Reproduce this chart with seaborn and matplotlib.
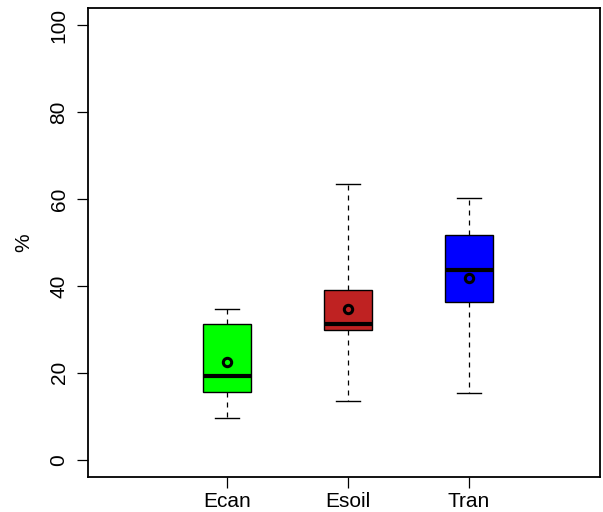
import pandas as pd
import matplotlib
matplotlib.use("Agg")
import matplotlib.pyplot as plt
import seaborn as sns

# --- values ---
components = ["Ecan", "Esoil", "Tran"]
whisker_low = [9.7, 13.4, 15.4]
q1 = [15.5, 29.8, 36.2]
median = [19.3, 31.3, 43.7]
q3 = [31.3, 39.1, 51.8]
whisker_high = [34.6, 63.4, 60.3]
means = [22.5, 34.6, 41.9]
box_colors = ["#00FF00", "#BF2222", "#0000FF"]

plt.rcParams["font.family"] = ["Liberation Sans", "DejaVu Sans"]

# five-number summary per component (whiskers extend to min/max)
rows = []
for i, comp in enumerate(components):
    for v in [whisker_low[i], q1[i], median[i], q3[i], whisker_high[i]]:
        rows.append({"comp": comp, "value": v})
df = pd.DataFrame(rows)
mean_df = pd.DataFrame({"comp": components, "mean": means})

fig = plt.figure(figsize=(6.03, 5.12), dpi=100)
ax = fig.add_axes([88 / 603, 35 / 512, 512 / 603, 469 / 512])

sns.boxplot(data=df, x="comp", y="value", hue="comp", palette=box_colors,
            order=components, hue_order=components, legend=False,
            width=0.4, whis=(0, 100), linewidth=1.0, linecolor="black",
            saturation=1, ax=ax,
            whiskerprops={"linestyle": (0, (4, 4)), "linewidth": 0.9},
            capprops={"linewidth": 1.0},
            medianprops={"linewidth": 3.0, "color": "black"},
            boxprops={"edgecolor": "black"})

sns.pointplot(data=mean_df, x="comp", y="mean", order=components,
              linestyle="none", marker="o", color="black", errorbar=None,
              markersize=6, markerfacecolor="none", markeredgewidth=2.2, ax=ax)

ax.set_xlim(-1.149, 3.083)
ax.set_ylim(-4, 104)
ax.set_yticks([0, 20, 40, 60, 80, 100])
ax.set_yticklabels(["0", "20", "40", "60", "80", "100"], rotation=90, va="center")
ax.set_xticks([0, 1, 2])
ax.set_xticklabels(components)
ax.tick_params(axis="both", length=8, width=0.9, labelsize=15, direction="out")
ax.tick_params(axis="x", pad=3)
ax.tick_params(axis="y", pad=6)
ax.set_xlabel("")
ax.set_ylabel("%", fontsize=15, labelpad=12)
for s in ax.spines.values():
    s.set_visible(True)
    s.set_linewidth(1.3)
    s.set_color("black")

fig.savefig("out.png", dpi=100)
plt.close(fig)
